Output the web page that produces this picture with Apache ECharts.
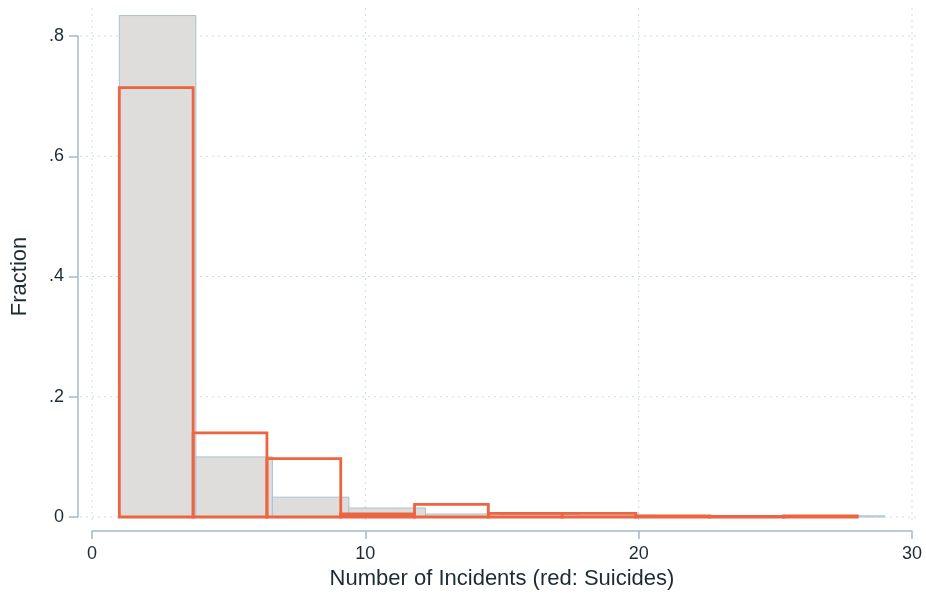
<!DOCTYPE html>
<html>
<head>
<meta charset="utf-8">
<script src="https://cdn.jsdelivr.net/npm/echarts@6/dist/echarts.min.js"></script>
<style>
  html, body { margin: 0; padding: 0; background: #ffffff; }
  #chart { width: 926px; height: 596px; }
</style>
</head>
<body>
<div id="chart"></div>
<script>
// All incidents: bin edges and fractions
const allEdges = [1, 3.8, 6.6, 9.4, 12.2, 15, 17.8, 20.6, 23.4, 26.2, 29];
const allFrac  = [0.834, 0.100, 0.033, 0.015, 0.005, 0.004, 0.003, 0.002, 0.001, 0.002];

// Suicides: bin edges and fractions
const suiEdges = [1, 3.7, 6.4, 9.1, 11.8, 14.5, 17.2, 19.9, 22.6, 25.3, 28];
const suiFrac  = [0.714, 0.140, 0.097, 0.005, 0.021, 0.006, 0.006, 0.002, 0.001, 0.002];

// Axis ticks
const xTicks = [0, 10, 20, 30];
const yTicks = [0, 0.2, 0.4, 0.6, 0.8];

function toBins(edges, vals) {
  return vals.map((v, i) => [edges[i], edges[i + 1], v]);
}

const chart = echarts.init(document.getElementById('chart'));

function rectItem(stroke, fill, lw) {
  return function (params, api) {
    const p0 = api.coord([api.value(0), api.value(2)]);
    const p1 = api.coord([api.value(1), 0]);
    return {
      type: 'rect',
      shape: { x: p0[0], y: p0[1], width: p1[0] - p0[0], height: p1[1] - p0[1] },
      style: { fill: fill, stroke: stroke, lineWidth: lw }
    };
  };
}

const font = '"Liberation Sans", Arial, Helvetica, sans-serif';
const textColor = '#1d2b33';
const axisColor = '#a0bccb';

chart.setOption({
  animation: false,
  backgroundColor: '#ffffff',
  grid: { left: 92, right: 14, top: 36, bottom: 79 },
  xAxis: {
    type: 'value', min: 0, max: 30, interval: 10,
    offset: 14,
    name: 'Number of Incidents (red: Suicides)',
    nameLocation: 'middle', nameGap: 37,
    nameTextStyle: { fontFamily: font, fontSize: 22, color: textColor },
    axisLine: { onZero: false, lineStyle: { color: axisColor, width: 1.5 } },
    axisTick: { length: 8, lineStyle: { color: axisColor, width: 1.5 } },
    axisLabel: { fontFamily: font, fontSize: 18, color: textColor, margin: 14 },
    splitLine: { show: false }
  },
  yAxis: {
    type: 'value', min: 0, max: 0.8, interval: 0.2,
    offset: 14,
    name: 'Fraction',
    nameLocation: 'middle', nameGap: 47,
    nameTextStyle: { fontFamily: font, fontSize: 22, color: textColor },
    axisLine: { show: true, onZero: false, lineStyle: { color: axisColor, width: 1.5 } },
    axisTick: { show: true, length: 9, lineStyle: { color: axisColor, width: 1.5 } },
    axisLabel: {
      fontFamily: font, fontSize: 18, color: textColor, margin: 14,
      formatter: v => v === 0 ? '0' : String(+v.toFixed(1)).replace(/^0/, '')
    },
    splitLine: { show: false }
  },
  series: [
    {
      // dotted grid lines, extended a little past the plot region
      type: 'custom', silent: true, clip: false, z: 1,
      data: [[0]],
      renderItem: function (params, api) {
        const children = [];
        const style = { stroke: '#c9dce6', lineWidth: 1, lineDash: [2, 4] };
        xTicks.forEach(t => {
          const a = api.coord([t, 0.8]);
          const b = api.coord([t, 0]);
          children.push({ type: 'line', shape: { x1: a[0], y1: a[1] - 28, x2: b[0], y2: b[1] + 3 }, style: style });
        });
        yTicks.forEach(t => {
          const a = api.coord([0, t]);
          const b = api.coord([30, t]);
          children.push({ type: 'line', shape: { x1: a[0] - 12, y1: a[1], x2: b[0] + 4, y2: b[1] }, style: style });
        });
        return { type: 'group', children: children };
      }
    },
    {
      name: 'All incidents',
      type: 'custom', clip: false, z: 2,
      data: toBins(allEdges, allFrac),
      renderItem: rectItem('#a9c2d0', '#dedddc', 1)
    },
    {
      name: 'Suicides',
      type: 'custom', clip: false, z: 3,
      data: toBins(suiEdges, suiFrac),
      renderItem: rectItem('#ec6440', 'rgba(0,0,0,0)', 2.8)
    }
  ]
});
</script>
</body>
</html>
